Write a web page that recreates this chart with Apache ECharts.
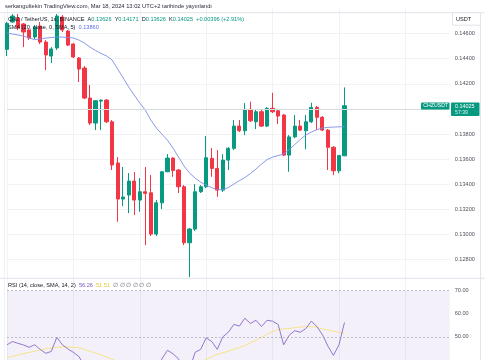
<!DOCTYPE html>
<html><head><meta charset="utf-8">
<script src="https://cdn.jsdelivr.net/npm/echarts@6/dist/echarts.min.js"></script>
<style>html,body{margin:0;padding:0;background:#fff}#c{width:485px;height:360px}</style>
</head><body><div id="c"></div>
<script>
// ---- data (CHZ/USDT, 1h candles, Mar 16 00:00 – Mar 18 13:00, UTC+2) ----
const opens = [
0.14474,0.14692,0.14723,0.14676,0.14628,0.14572,0.14660,0.14532,0.14421,0.14485,
0.14731,0.14620,0.14516,0.14405,0.14325,0.14086,0.13887,0.14062,0.14070,0.13897,
0.13569,0.13282,0.13314,0.13425,0.13274,0.13340,0.13332,0.13003,0.13252,0.13499,
0.13608,0.13513,0.13380,0.12934,0.13043,0.13340,0.13380,0.13606,0.13526,0.13353,
0.13592,0.13686,0.13863,0.13826,0.13996,0.13897,0.13977,0.13863,0.14004,0.13985,
0.13951,0.13632,0.13777,0.13863,0.13826,0.13897,0.14012,0.13933,0.13831,0.13694,
0.13507,0.13626];
const closes = [
0.14681,0.14739,0.14644,0.14612,0.14564,0.14652,0.14532,0.14429,0.14477,0.14739,
0.14628,0.14508,0.14413,0.14317,0.14086,0.13887,0.14065,0.14070,0.13897,0.13553,
0.13282,0.13298,0.13425,0.13274,0.13340,0.13327,0.13003,0.13252,0.13499,0.13608,
0.13509,0.13380,0.12934,0.13043,0.13340,0.13380,0.13611,0.13526,0.13353,0.13592,
0.13686,0.13863,0.13826,0.13996,0.13905,0.13977,0.13863,0.14004,0.13977,0.13943,
0.13632,0.13777,0.13863,0.13831,0.13897,0.14012,0.13933,0.13831,0.13694,0.13507,
0.13629,0.14025];
const lows = [
0.14421,0.14684,0.14628,0.14492,0.14548,0.14556,0.14516,0.14309,0.14365,0.14469,
0.14612,0.14500,0.14405,0.14214,0.14078,0.13871,0.13831,0.13831,0.13887,0.13513,
0.13101,0.13226,0.13170,0.13154,0.13181,0.12915,0.12987,0.12987,0.13202,0.13497,
0.13459,0.13330,0.12915,0.12660,0.13027,0.13330,0.13369,0.13459,0.13300,0.13338,
0.13513,0.13672,0.13815,0.13791,0.13895,0.13839,0.13855,0.13855,0.13967,0.13879,
0.13624,0.13499,0.13767,0.13823,0.13678,0.13887,0.13831,0.13823,0.13513,0.13473,
0.13487,0.13626];
const highs = [
0.14692,0.14755,0.14755,0.14684,0.14636,0.14668,0.14692,0.14548,0.14492,0.14755,
0.14747,0.14628,0.14524,0.14413,0.14341,0.14190,0.14070,0.14074,0.14078,0.13911,
0.13616,0.13537,0.13489,0.13497,0.13449,0.13537,0.13473,0.13274,0.13505,0.13640,
0.13616,0.13521,0.13393,0.13051,0.13401,0.13393,0.13783,0.13688,0.13672,0.13640,
0.13696,0.13911,0.13911,0.14046,0.14057,0.13991,0.13991,0.14014,0.14128,0.13991,
0.13959,0.13791,0.13951,0.13911,0.13951,0.14049,0.14023,0.13943,0.13839,0.13704,
0.13632,0.14171];
const sma20 = [
0.14604,0.14596,0.14588,0.14580,0.14564,0.14552,0.14556,0.14564,0.14568,0.14572,
0.14572,0.14568,0.14564,0.14548,0.14524,0.14492,0.14465,0.14441,0.14421,0.14389,
0.14317,0.14246,0.14174,0.14110,0.14046,0.13991,0.13911,0.13847,0.13799,0.13751,
0.13688,0.13616,0.13545,0.13489,0.13449,0.13417,0.13393,0.13373,0.13357,0.13357,
0.13373,0.13401,0.13429,0.13453,0.13485,0.13521,0.13561,0.13596,0.13616,0.13628,
0.13640,0.13676,0.13716,0.13756,0.13792,0.13815,0.13835,0.13847,0.13853,0.13855,
0.13857,0.13860];
const rsi = [
46.6,48.0,47.2,46.5,45.5,46.6,44.6,42.9,43.7,49.8,
46.6,44.8,43.3,41.5,37.5,34.0,37.0,37.3,35.5,31.5,
28.0,28.3,31.0,29.5,31.0,30.8,27.0,33.0,40.5,44.2,
42.7,40.5,33.0,36.0,43.3,44.6,49.6,48.0,44.6,50.0,
52.0,55.4,54.7,58.1,55.8,57.2,54.5,57.2,56.8,55.4,
46.6,50.7,52.7,52.0,53.6,56.8,54.5,51.0,46.0,42.0,
46.6,56.26];
const rsiMa = [
41.0,41.6,42.2,42.8,43.3,43.8,44.3,44.8,45.2,45.5,
45.6,45.7,45.5,45.3,44.6,43.8,43.0,42.2,41.3,40.3,
39.3,38.4,37.5,36.7,35.9,35.2,34.6,34.2,34.0,34.1,
34.5,35.0,35.8,36.9,38.0,39.2,40.3,41.4,42.5,43.1,
43.8,44.6,45.4,46.3,47.4,48.5,49.8,51.2,52.3,53.2,
53.5,53.6,54.0,54.3,54.4,54.5,54.1,53.4,53.0,52.5,
52.0,51.51];
const priceTicks = {min: 0.126, max: 0.148, step: 0.002};
const rsiTicks = {min: 40, max: 80, step: 10};
const rsiLevels = [70, 50, 30];
const emptySlots = 19;
const categories = [];
for (let i = 0; i < opens.length + emptySlots; i++) {
  const d = new Date(Date.UTC(2024, 2, 16, 0) + i * 3600000);
  categories.push(d.getUTCDate() + ' Mar ' + String(d.getUTCHours()).padStart(2, '0') + ':00');
}

// ---- chart ----
const FONT = 'Liberation Sans';
const UP = '#089981', DOWN = '#f23645';
const n = opens.length;
const candles = opens.map((o, i) => [o, closes[i], lows[i], highs[i]]);
const lastClose = closes[n - 1];
const chg = lastClose - closes[n - 2];
const pct = chg / closes[n - 2] * 100;
const step = 5.533;
const left = 7;
const gridW = step * (categories.length - 1);

const chart = echarts.init(document.getElementById('c'), null, {renderer: 'canvas'});
const xCommon = {
  type: 'category', data: categories, boundaryGap: false,
  axisLine: {show: false}, axisTick: {show: false}, axisLabel: {show: false},
  splitLine: {show: true, interval: (idx) => idx % 12 === 0, lineStyle: {color: '#f0f2f6', width: 1}}
};
chart.setOption({
  animation: false,
  backgroundColor: '#ffffff',
  grid: [
    {left: left, width: gridW, top: 8.4, height: 276.3},
    {left: left, width: gridW, top: 267.6, height: 98.8}
  ],
  xAxis: [Object.assign({gridIndex: 0}, xCommon), Object.assign({gridIndex: 1}, xCommon)],
  yAxis: [
    {gridIndex: 0, type: 'value', position: 'right', min: priceTicks.min, max: priceTicks.max, interval: priceTicks.step,
     axisLine: {show: false}, axisTick: {show: false},
     axisLabel: {margin: 5, fontSize: 5.6, color: '#50535e', fontFamily: FONT, showMinLabel: false, showMaxLabel: false,
       formatter: v => v.toFixed(5)},
     splitLine: {show: true, showMinLine: false, showMaxLine: false, lineStyle: {color: '#f0f2f6', width: 1}}},
    {gridIndex: 1, type: 'value', position: 'right', min: rsiTicks.min, max: rsiTicks.max, interval: rsiTicks.step,
     axisLine: {show: false}, axisTick: {show: false},
     axisLabel: {margin: 5, fontSize: 5.6, color: '#50535e', fontFamily: FONT, showMinLabel: false, showMaxLabel: false,
       formatter: v => v.toFixed(2)},
     splitLine: {show: false}}
  ],
  series: [
    {type: 'candlestick', xAxisIndex: 0, yAxisIndex: 0, data: candles, barWidth: 3.7, clip: false,
     itemStyle: {color: UP, color0: DOWN, borderColor: UP, borderColor0: DOWN, borderWidth: 1},
     markLine: {silent: true, symbol: 'none', animation: false, label: {show: false},
       lineStyle: {color: '#d6dcdb', type: 'solid', width: 1},
       data: [{yAxis: lastClose}]}},
    {type: 'line', xAxisIndex: 0, yAxisIndex: 0, data: sma20, symbol: 'none', z: 3,
     lineStyle: {color: '#7d8de3', width: 0.9}},
    {type: 'line', xAxisIndex: 1, yAxisIndex: 1, data: rsiMa, symbol: 'none', z: 3,
     lineStyle: {color: '#f6e27a', width: 0.9}},
    {type: 'line', xAxisIndex: 1, yAxisIndex: 1, data: rsi, symbol: 'none', z: 4,
     lineStyle: {color: '#8a68c9', width: 0.9},
     markArea: {silent: true, itemStyle: {color: 'rgba(126,87,194,0.09)'},
       data: [[{yAxis: rsiLevels[0]}, {yAxis: rsiLevels[2]}]]},
     markLine: {silent: true, symbol: 'none', label: {show: false},
       lineStyle: {color: '#a3a6af', type: [2, 2], width: 0.7},
       data: rsiLevels.map(v => ({yAxis: v}))}}
  ]
});

const yLast = chart.convertToPixel({yAxisIndex: 0}, lastClose);
const txt = (x, y, text, extra) => ({type: 'text', x: x, y: y, z: 100,
  style: Object.assign({text: text, fontSize: 5.6, fontFamily: FONT, fill: '#131722', verticalAlign: 'middle'}, extra || {})});
chart.setOption({
  graphic: [
    {type: 'line', z: 90, shape: {x1: 0, y1: 12.7, x2: 485, y2: 12.7}, style: {stroke: '#e0e3eb', lineWidth: 1}},
    {type: 'line', z: 90, shape: {x1: 0, y1: 278.3, x2: 485, y2: 278.3}, style: {stroke: '#e0e3eb', lineWidth: 1}},
    {type: 'line', z: 90, shape: {x1: 4.5, y1: 12.7, x2: 4.5, y2: 360}, style: {stroke: '#eef0f5', lineWidth: 1}},
    {type: 'line', z: 90, shape: {x1: 480.5, y1: 12.7, x2: 480.5, y2: 360}, style: {stroke: '#e0e3eb', lineWidth: 1}},
    {type: 'rect', z: 91, shape: {x: 452.5, y: 12.7, width: 28, height: 12.5}, style: {fill: '#fff', stroke: '#e0e3eb', lineWidth: 1}},
    txt(456, 19, 'USDT', {fill: '#131722'}),
    txt(5, 6, 'serkangultekin TradingView.com, Mar 18, 2024 13:02 UTC+2 tarihinde yayınlandı', {fontSize: 5.75, fill: '#2a2e39'}),
    {type: 'text', x: 8, y: 19, z: 100, style: {
      text: '{t|CHZ / TetherUS, 1s, BINANCE}  {k|A}{v|' + opens[n-1].toFixed(5) + '}  {k|Y}{v|' + highs[n-1].toFixed(5) +
        '}  {k|D}{v|' + lows[n-1].toFixed(5) + '}  {k|K}{v|' + lastClose.toFixed(5) + '}  {v|+' + chg.toFixed(5) + ' (+' + pct.toFixed(2) + '%)}',
      verticalAlign: 'middle', fontFamily: FONT, fontSize: 5.6,
      rich: {t: {fill: '#131722', fontSize: 5.6, fontFamily: FONT}, k: {fill: '#131722', fontSize: 5.6, fontFamily: FONT},
             v: {fill: UP, fontSize: 5.6, fontFamily: FONT}}}},
    {type: 'text', x: 8, y: 27, z: 100, style: {
      text: '{t|SMA (20, close, 0, SMA, 5)}  {v|' + sma20[n-1].toFixed(5) + '}',
      verticalAlign: 'middle', fontFamily: FONT, fontSize: 5.6,
      rich: {t: {fill: '#131722', fontSize: 5.6, fontFamily: FONT}, v: {fill: '#5b6ee0', fontSize: 5.6, fontFamily: FONT}}}},
    {type: 'text', x: 8, y: 285.7, z: 100, style: {
      text: '{t|RSI (14, close, SMA, 14, 2)}  {r|' + rsi[n-1].toFixed(2) + '}  {m|' + rsiMa[n-1].toFixed(2) + '}  {g|∅ ∅ ∅ ∅ ∅ ∅}',
      verticalAlign: 'middle', fontFamily: FONT, fontSize: 5.6,
      rich: {t: {fill: '#131722', fontSize: 5.6, fontFamily: FONT}, r: {fill: '#7e57c2', fontSize: 5.6, fontFamily: FONT},
             m: {fill: '#e3cc2a', fontSize: 5.6, fontFamily: FONT}, g: {fill: '#6a6d78', fontSize: 5.6, fontFamily: FONT}}}},
    {type: 'rect', z: 95, shape: {x: 421, y: yLast - 3.2, width: 28.5, height: 7, r: 1}, style: {fill: UP}},
    txt(423.3, yLast + 0.3, 'CHZUSDT', {fill: '#fff', fontSize: 5.2}),
    {type: 'rect', z: 95, shape: {x: 451, y: yLast - 3.2, width: 28.5, height: 13.5, r: 1}, style: {fill: UP}},
    txt(455, yLast + 0.3, lastClose.toFixed(5), {fill: '#fff', fontSize: 5.4}),
    txt(455, yLast + 6.8, '57:39', {fill: '#d8f2ec', fontSize: 5.2})
  ]
});
</script>
</body></html>
